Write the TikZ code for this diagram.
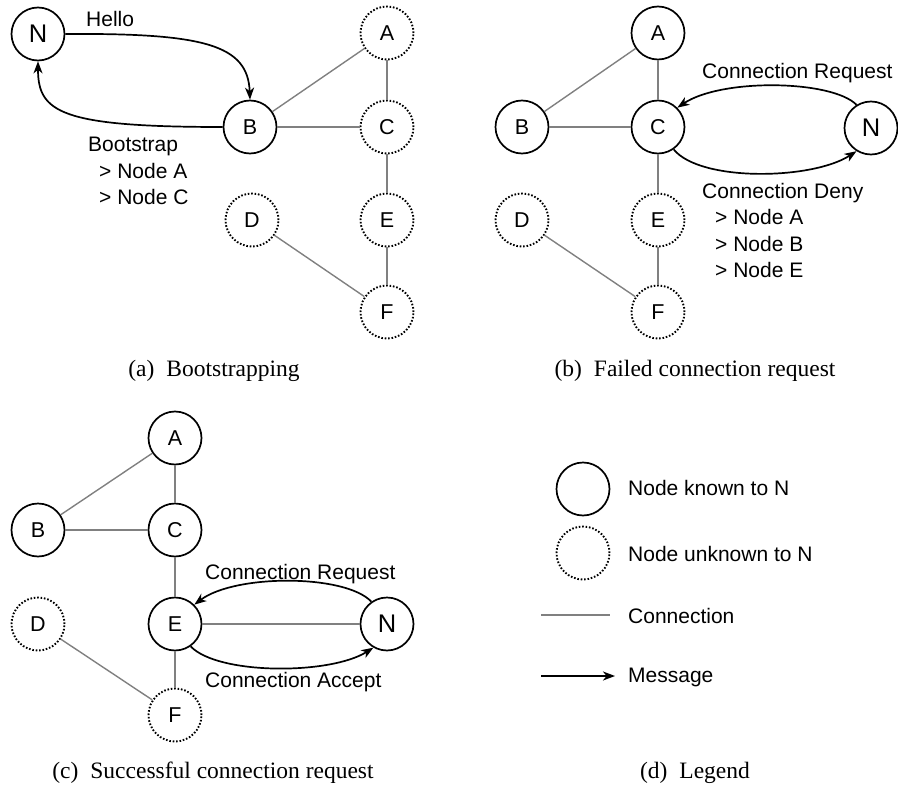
\documentclass[tikz,border=0pt]{standalone}
\usepackage{fontspec}
\setmainfont{Liberation Serif}
\newfontfamily\helv{Liberation Sans}
\usetikzlibrary{arrows.meta}

\tikzset{
  peer/.style={circle, minimum size=53pt, inner sep=0pt, line width=1.7pt,
               font=\helv\fontsize{21.5}{25}\selectfont},
  known/.style={peer, draw=black},
  unknown/.style={peer, draw=black, line width=1.9pt, dash pattern=on 1.6pt off 1.8pt},
  newpeer/.style={known, font=\helv\fontsize{25.5}{30}\selectfont},
  link/.style={draw=black!50, line width=1.4pt},
  msg/.style={draw=black, line width=1.7pt,
              -{Stealth[length=12pt, width=9pt, inset=3.5pt]}},
  lbl/.style={anchor=base west, inner sep=0pt,
              font=\helv\fontsize{21}{25}\selectfont},
  caption/.style={anchor=base, inner sep=0pt,
                  font=\fontsize{23.5}{28}\selectfont}
}

\begin{document}
\begin{tikzpicture}[x=1pt, y=-1pt]
\useasboundingbox (0,0) rectangle (898,787);

% ---------- (a) Bootstrapping ----------
\node[newpeer] (aN) at (38,34) {N};
\node[known]   (aB) at (250,127) {B};
\node[unknown] (aA) at (387,33) {A};
\node[unknown] (aC) at (387,127) {C};
\node[unknown] (aE) at (387,220) {E};
\node[unknown] (aD) at (252,220) {D};
\node[unknown] (aF) at (387,312) {F};

\draw[link] (aB) -- (aA);
\draw[link] (aB) -- (aC);
\draw[link] (aA) -- (aC);
\draw[link] (aC) -- (aE);
\draw[link] (aE) -- (aF);
\draw[link] (aD) -- (aF);

\draw[msg] (aN.east) .. controls (205,33) and (248,45) .. (aB.north);
\draw[msg] (aB.west) .. controls (60,127) and (38,112) .. (aN.south);

\node[lbl] (aHello) at (86,27) {Hello};
\node[lbl] (aBoot)  at (88,151) {Bootstrap};
\node[lbl] (aBootA) at (99,178) {> Node A};
\node[lbl] (aBootC) at (99,204) {> Node C};

\node[caption] (capA) at (214,376) {(a)\hspace{12pt}Bootstrapping};

% ---------- (b) Failed connection request ----------
\node[known]   (bA) at (658,33) {A};
\node[known]   (bB) at (522,127) {B};
\node[known]   (bC) at (658,127) {C};
\node[newpeer] (bN) at (871,128) {N};
\node[unknown] (bD) at (522,220) {D};
\node[unknown] (bE) at (658,220) {E};
\node[unknown] (bF) at (658,312) {F};

\draw[link] (bB) -- (bA);
\draw[link] (bB) -- (bC);
\draw[link] (bA) -- (bC);
\draw[link] (bC) -- (bE);
\draw[link] (bE) -- (bF);
\draw[link] (bD) -- (bF);

\draw[msg] (bN.122) .. controls (832,80) and (722,78) .. (bC.45);
\draw[msg] (bC.-55) .. controls (700,182) and (812,180) .. (bN.-122);

\node[lbl] (bReq)  at (702,78) {Connection Request};
\node[lbl] (bDeny) at (702,198) {Connection Deny};
\node[lbl] (bDenyA) at (715,224) {> Node A};
\node[lbl] (bDenyB) at (715,251) {> Node B};
\node[lbl] (bDenyE) at (715,277) {> Node E};

\node[caption] (capB) at (695,376) {(b)\hspace{12pt}Failed connection request};

% ---------- (c) Successful connection request ----------
\node[known]   (cA) at (175,438) {A};
\node[known]   (cB) at (38,530) {B};
\node[known]   (cC) at (175,530) {C};
\node[known]   (cE) at (175,624) {E};
\node[newpeer] (cN) at (387,624) {N};
\node[unknown] (cD) at (38,624) {D};
\node[unknown] (cF) at (175,715) {F};

\draw[link] (cB) -- (cA);
\draw[link] (cB) -- (cC);
\draw[link] (cA) -- (cC);
\draw[link] (cC) -- (cE);
\draw[link] (cE) -- (cN);
\draw[link] (cE) -- (cF);
\draw[link] (cD) -- (cF);

\draw[msg] (cN.125) .. controls (345,574) and (235,574) .. (cE.45);
\draw[msg] (cE.-55) .. controls (218,675) and (330,675) .. (cN.-120);

\node[lbl] (cReq) at (205,579) {Connection Request};
\node[lbl] (cAcc) at (205,687) {Connection Accept};

\node[caption] (capC) at (213,778) {(c)\hspace{12pt}Successful connection request};

% ---------- (d) Legend ----------
\node[known]   (dKnown)   at (583,489) {};
\node[unknown] (dUnknown) at (583,553) {};
\coordinate (dLinkL) at (541,615);
\coordinate (dLinkR) at (610,615);
\coordinate (dMsgL)  at (541,676);
\coordinate (dMsgR)  at (615,676);
\draw[link] (dLinkL) -- (dLinkR);
\draw[msg]  (dMsgL) -- (dMsgR);

\node[lbl] (dKnownT)   at (628,495) {Node known to N};
\node[lbl] (dUnknownT) at (628,561) {Node unknown to N};
\node[lbl] (dLinkT)    at (628,623) {Connection};
\node[lbl] (dMsgT)     at (628,682) {Message};

\node[caption] (capD) at (695,778) {(d)\hspace{12pt}Legend};
\end{tikzpicture}
\end{document}
